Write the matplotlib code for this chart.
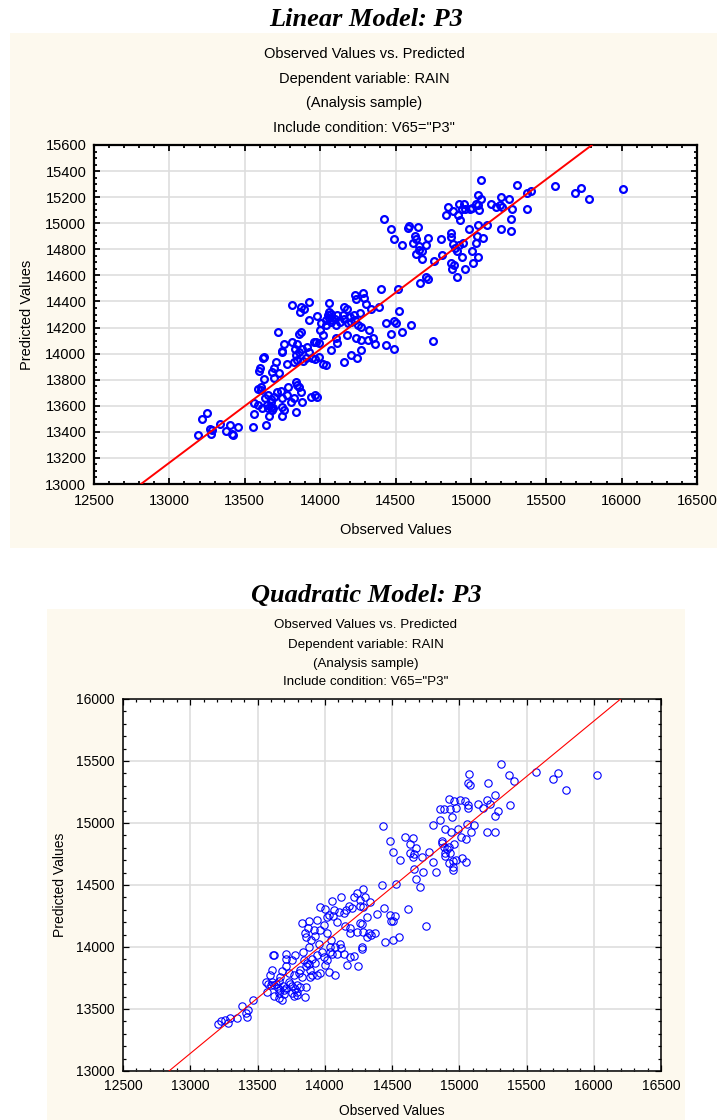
import numpy as np
import matplotlib
matplotlib.use("Agg")
import matplotlib.pyplot as plt
from matplotlib.patches import Rectangle
from matplotlib.ticker import MultipleLocator

plt.rcParams['font.family'] = ['Liberation Sans', 'DejaVu Sans']

# ---------------- data ----------------
titles = ["Linear Model: P3", "Quadratic Model: P3"]
subtitle_lines = ["Observed Values vs. Predicted", "Dependent variable: RAIN",
                  "(Analysis sample)", 'Include condition: V65="P3"']
x_label = "Observed Values"
y_label = "Predicted Values"

# Linear model: observed / predicted
lin_obs = [13192, 13219, 13248, 13272, 13281, 13274, 13338, 13378, 13405, 13416, 13425, 13458, 13553, 13642,
           13560, 13562, 13589, 13616, 13633, 13649, 13655, 13656, 13671, 13671, 13675, 13682, 13686, 13693, 13664,
           13611, 13608, 13588, 13604, 13619, 13625, 13631, 13593, 13697, 13681, 13696,
           14393, 14338, 14304, 14282, 14293, 14229, 14238, 14264, 14227, 14198, 14160, 14176, 14149, 14109, 14100,
           14060, 14071, 14051, 14056, 14082, 14104, 14131, 14160, 14182, 14204, 14233, 14253, 14271, 14176, 14238,
           14271, 14316, 14349, 14364, 14322, 14271, 14242, 14204, 14160, 14111, 14104, 14071, 14042, 14016, 13993,
           13971, 13976, 13927, 13998, 14020, 14038, 14060, 14071, 14038, 14004, 13927, 13871, 13864, 13816, 13893,
           13722, 13760, 13744, 13816, 13849, 13860, 13871, 13833, 13860, 13882, 13916, 13927, 13944, 13967, 13904,
           13849, 13782, 13749, 13960, 13993, 13838, 13827, 13887, 13704, 13727, 13838, 13860,
           13716, 13738, 13749, 13782, 13789, 13849, 13871, 13882, 13938, 13967, 13976, 13749, 13760, 13804, 13827,
           13842, 13744,
           15064, 15303, 15558, 15688, 15731, 15781, 16009, 15374, 15400, 15197, 15252, 15274, 15208, 15192, 15164,
           15131, 15369, 15263, 15263, 15197, 15049, 15064, 15049, 15031, 15053, 15009, 14993, 14954, 14960, 14942,
           14920, 14881, 14847, 14838, 14916, 14931, 15108, 15049, 14987, 15038, 15080, 15035, 15009, 15049, 15011,
           14958, 14942, 14905, 14876, 14887, 14869, 14865, 14865, 14881, 14898, 14920, 14947, 14909, 14810, 14757,
           14799, 14717, 14704, 14655, 14628, 14637, 14615, 14655, 14677, 14637, 14673, 14704, 14715, 14664, 14544,
           14493, 14467, 14427, 14584, 14588, 14650,
           14518, 14402, 14522, 14438, 14489, 14500, 14600, 14544, 14467, 14438, 14493, 14748]
lin_pred = [13372, 13495, 13544, 13423, 13413, 13385, 13464, 13405, 13449, 13385, 13372, 13436, 13436, 13449,
            13534, 13618, 13606, 13580, 13657, 13606, 13585, 13682, 13631, 13593, 13649, 13567, 13585, 13669, 13524,
            13720, 13746, 13726, 13890, 13969, 13975, 13803, 13867, 13813, 13859, 13892,
            14358, 14345, 14384, 14468, 14427, 14453, 14422, 14315, 14294, 14282, 14358, 14340, 14299, 14294, 14264,
            14391, 14307, 14299, 14274, 14256, 14223, 14243, 14264, 14231, 14243, 14256, 14218, 14205, 14141, 14116,
            14103, 14103, 14121, 14070, 14180, 14024, 13968, 13988, 13937, 14085, 14116, 14027, 13912, 13917, 13976,
            14090, 14289, 14256, 14180, 14141, 14218, 14320, 14243, 14256, 14231, 14396, 14358, 14320, 14376, 14345,
            14162, 14072, 14009, 14090, 14070, 14152, 14167, 14034, 14014, 14034, 14052, 14014, 13963, 13958, 13963,
            13950, 13924, 14019, 14090, 14078, 13988, 13937, 13942, 13937, 13848, 13784, 13746,
            13703, 13713, 13657, 13682, 13746, 13759, 13708, 13631, 13669, 13682, 13669, 13593, 13567, 13631, 13657,
            13550, 13524,
            15328, 15297, 15282, 15233, 15267, 15187, 15264, 15233, 15251, 15203, 15187, 15110, 15123, 15136, 15123,
            15144, 15110, 15033, 14944, 14956, 15218, 15187, 15136, 15149, 15103, 15115, 15110, 15146, 15110, 15110,
            15146, 15097, 15126, 15064, 15064, 15021, 14987, 14987, 14956, 14905, 14885, 14849, 14790, 14744, 14695,
            14649, 14738, 14590, 14649, 14679, 14695, 14926, 14892, 14841, 14808, 14833, 14849, 14790, 14759, 14713,
            14879, 14885, 14833, 14828, 14900, 14879, 14849, 14797, 14790, 14764, 14726, 14585, 14572, 14541, 14833,
            14879, 14956, 15033, 14962, 14977, 14969,
            14495, 14495, 14326, 14238, 14251, 14238, 14218, 14162, 14149, 14067, 14036, 14097]

# Quadratic model: observed / predicted
quad_obs = [13203, 13228, 13260, 13292, 13278, 13347, 13384, 13416, 13421, 13429, 13466,
            13565, 13575, 13570, 13607, 13625, 13649, 13669, 13657, 13689, 13714, 13731, 13756, 13793, 13818, 13862,
            13850, 13756, 13768, 13793, 13682, 13657, 13625, 13595, 13607, 13615, 13625, 13714, 13714, 13781, 13756,
            13714, 13682, 13669, 13731, 13768, 13806, 13830, 13813, 13862, 13887, 13892, 13848, 13838, 13867, 13880,
            13905, 13930, 13942, 13880, 13897, 13862, 13855, 13872, 13830, 13882, 13942, 13917, 13930,
            13967, 14004, 14029, 14054, 14066, 14103, 14120, 14140, 14160, 14177, 14202, 14214, 14239, 14284, 14301,
            14264, 14264, 14284, 14333, 14313, 14259, 14276, 14239, 14190, 14152, 14091, 14061, 14016, 13991, 13962,
            14016, 14046, 14078, 14115, 14120, 14091, 14054, 14016, 13991, 14036, 14041, 13979, 13954, 14004, 14029,
            14078, 13967, 13942, 13905, 14140, 14185, 14214, 14165, 14244, 14190, 14284, 14326, 14343, 14375, 14313,
            14276, 14276, 14388, 13600, 13640, 13700, 13740, 13780, 13700, 13660, 13790,
            14426, 14532, 14676, 14711, 14443, 14483, 14525, 14491, 14507, 14616, 14755, 14450, 14507, 14550, 14731,
            14830, 14954, 14660,
            15313, 15070, 15372, 15410, 15571, 15734, 15695, 15791, 16022, 15063, 15077, 15211, 15266, 15380, 15206,
            15226, 15177, 15268, 15285, 14921, 14963, 15003, 15045, 15063, 15063, 14978, 14929, 14889, 14859, 14946,
            15137, 14854, 14805, 14897, 14941, 14991, 15012, 15052, 15087, 15112, 15058, 15206, 15268, 14433, 14483,
            14507, 14557, 14631, 14661, 14681, 14654, 14723, 14805, 14773, 14872, 14872, 14884, 14909, 14921, 14897,
            14897, 14934, 14958, 14921, 14953, 14978, 15020, 15052, 14953, 14599, 14656, 14636]
quad_pred = [13382, 13401, 13409, 13428, 13387, 13430, 13521, 13468, 13436, 13495, 13575,
             13714, 13701, 13634, 13714, 13693, 13669, 13655, 13722, 13682, 13669, 13714, 13682, 13693, 13677, 13677,
             13596, 13628, 13607, 13634, 13570, 13628, 13607, 13776, 13816, 13934, 13934, 13945, 13902, 13937, 13896,
             13843, 13803, 13762, 13789, 13776, 13789, 13762, 13816, 13843, 13816, 13762, 13896, 13961, 13875, 13864,
             13902, 13875, 13937, 14003, 14057, 14084, 14116, 14151, 14196, 14212, 14218, 14137, 14089,
             14325, 14304, 14258, 14373, 14298, 14285, 14405, 14271, 14298, 14330, 14312, 14405, 14437, 14464, 14405,
             14378, 14330, 14325, 14365, 14245, 14196, 14186, 14124, 14151, 14170, 14204, 14250, 14245, 14178, 14137,
             14111, 14057, 14003, 14025, 13990, 13945, 13945, 13896, 13923, 13963, 14003, 13963, 14025, 13856, 13795,
             13776, 13789, 13776, 13776, 13945, 13923, 13929, 13856, 13843, 14116, 14124, 14111, 14097, 14111, 14084,
             14003, 13982, 14266, 13690, 13700, 13650, 13700, 13660, 13620, 13590, 13610,
             14500, 14508, 14546, 14487, 14318, 14259, 14254, 14213, 14211, 14304, 14171, 14037, 14058, 14079, 14607,
             14607, 14621, 14633,
             15473, 15398, 15385, 15339, 15412, 15404, 15353, 15270, 15390, 15323, 15304, 15323, 15229, 15144, 15184,
             15157, 15117, 15055, 15096, 15197, 15176, 15184, 15176, 15144, 15117, 15117, 15114, 15109, 15109, 15045,
             15157, 15023, 14983, 14948, 14929, 14948, 14889, 14870, 14929, 14983, 14988, 14929, 14929, 14975, 14857,
             14769, 14702, 14761, 14750, 14795, 14723, 14729, 14688, 14769, 14857, 14836, 14809, 14787, 14809, 14755,
             14734, 14755, 14830, 14675, 14696, 14702, 14715, 14683, 14648, 14889, 14881, 14830]

# fitted reference lines (intercept, slope)
lin_fit = (1862.5, 0.8693)
quad_fit = (1527.0, 0.8934)

CREAM = '#FDF9EE'
W, H = 717, 1120

fig = plt.figure(figsize=(W / 100, H / 100), dpi=100)


def fx(px):
    return px / W


def fy(py):
    return 1 - py / H


# background panels (behind everything)
fig.patches.append(Rectangle((fx(10), fy(548)), fx(707), 515 / H, transform=fig.transFigure,
                             facecolor=CREAM, edgecolor='none', zorder=-10))
fig.patches.append(Rectangle((fx(47), fy(1120)), fx(638), 511 / H, transform=fig.transFigure,
                             facecolor=CREAM, edgecolor='none', zorder=-10))

# titles
fig.text(fx(366), fy(20), titles[0], ha='center', va='center', fontsize=19,
         family='Liberation Serif', weight='bold', style='italic')
fig.text(fx(366), fy(595), titles[1], ha='center', va='center', fontsize=19,
         family='Liberation Serif', weight='bold', style='italic')

for i, (yy1, yy2) in enumerate(zip([54, 79, 103, 128], [625, 645, 664, 682])):
    fig.text(fx(364), fy(yy1), subtitle_lines[i], ha='center', va='center', fontsize=10.5)
    fig.text(fx(366), fy(yy2), subtitle_lines[i], ha='center', va='center', fontsize=9.6)


def setup(ax, ylim, ymaj, ymin, spine_w, fs, xpad, ypad):
    ax.set_xlim(12500, 16500)
    ax.set_ylim(*ylim)
    ax.xaxis.set_major_locator(MultipleLocator(500))
    ax.xaxis.set_minor_locator(MultipleLocator(100))
    ax.yaxis.set_major_locator(MultipleLocator(ymaj))
    ax.yaxis.set_minor_locator(MultipleLocator(ymin))
    ax.grid(True, which='major', color='#DEDEDE', linewidth=1.2, zorder=0)
    ax.set_axisbelow(True)
    for s in ax.spines.values():
        s.set_linewidth(spine_w)
        s.set_color('black')
    ax.tick_params(which='both', direction='in', top=True, right=True, colors='black',
                   labelsize=fs, width=spine_w * 0.8)
    ax.tick_params(axis='x', which='major', length=4, pad=xpad)
    ax.tick_params(axis='y', which='major', length=4, pad=ypad)
    ax.tick_params(which='minor', length=2)
    ax.set_facecolor('white')


# top axes
ax1 = fig.add_axes([fx(94), fy(484), 603 / W, 339 / H])
ax1.set_zorder(5)
setup(ax1, (13000, 15600), 200, 50, 1.6, 10.5, 7, 5.5)
ax1.plot(lin_obs, lin_pred, linestyle='none', marker='o', markersize=4.9,
         markerfacecolor='none', markeredgecolor='#0000FF', markeredgewidth=1.6, zorder=2)
ax1.axline((0, lin_fit[0]), slope=lin_fit[1], color='#FF0000', linewidth=1.4, zorder=3)
ax1.set_xlabel(x_label, fontsize=10.5)
ax1.set_ylabel(y_label, fontsize=10.5)
ax1.xaxis.label.set_va('center')
ax1.yaxis.label.set_va('center')
ax1.xaxis.set_label_coords(0.5, (484 - 530) / 339)
ax1.yaxis.set_label_coords((27 - 94) / 603, 0.5)

# bottom axes
ax2 = fig.add_axes([fx(123), fy(1071), 538 / W, 372 / H])
ax2.set_zorder(5)
setup(ax2, (13000, 16000), 500, 100, 1.1, 10, 5.5, 6)
ax2.plot(quad_obs, quad_pred, linestyle='none', marker='o', markersize=5.3,
         markerfacecolor='none', markeredgecolor='#0000FF', markeredgewidth=0.8, zorder=2)
ax2.axline((0, quad_fit[0]), slope=quad_fit[1], color='#FF0000', linewidth=0.8, zorder=3)
ax2.set_xlabel(x_label, fontsize=10)
ax2.set_ylabel(y_label, fontsize=10)
ax2.xaxis.label.set_va('center')
ax2.yaxis.label.set_va('center')
ax2.xaxis.set_label_coords(0.5, (1071 - 1111) / 372)
ax2.yaxis.set_label_coords((60 - 123) / 538, 0.5)

fig.savefig('out.png', dpi=100, facecolor='white')
